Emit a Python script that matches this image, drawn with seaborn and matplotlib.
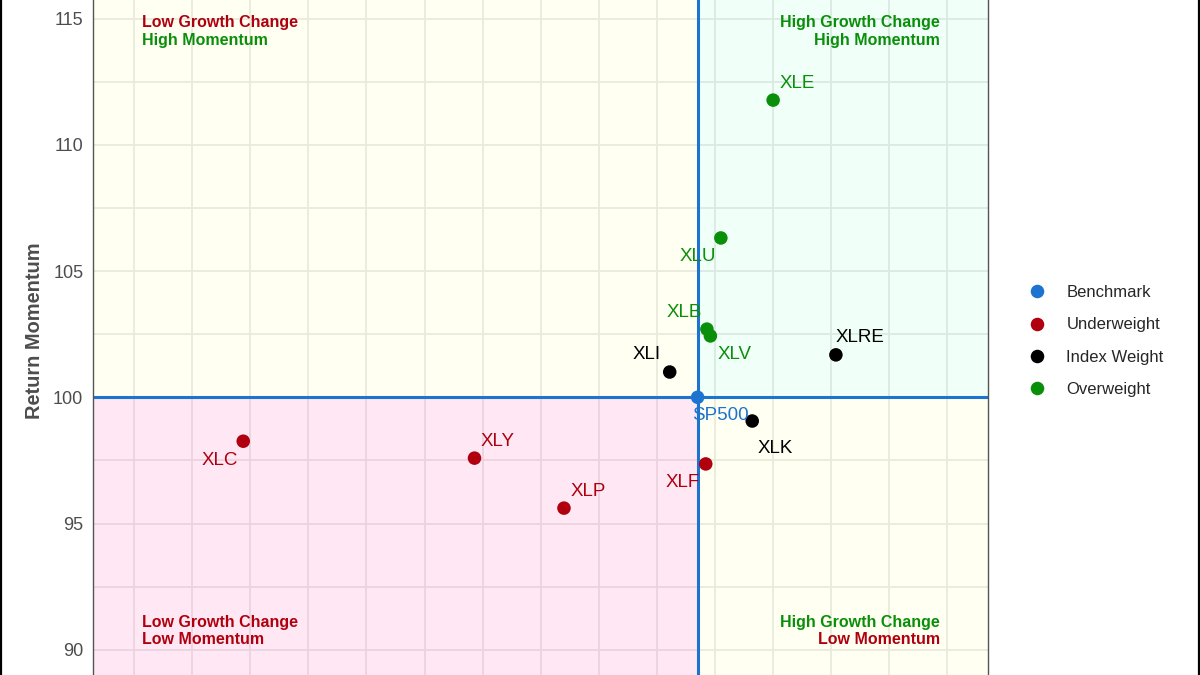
"""Mapa de cuadrantes: momentum de retorno vs cambio de crecimiento (sectores SPDR)."""

import matplotlib

matplotlib.use("Agg")
import matplotlib.pyplot as plt
from matplotlib.lines import Line2D
from matplotlib.ticker import MultipleLocator
import pandas as pd
import seaborn as sns

# --- datos ---
tickers = ["SP500", "XLE", "XLU", "XLB", "XLV", "XLI", "XLRE", "XLK", "XLF", "XLC", "XLY", "XLP"]
growth_change = [100.35, 101.00, 100.55, 100.43, 100.46, 100.11, 101.54, 100.82, 100.42, 96.44, 98.43, 99.20]
return_momentum = [100.00, 111.77, 106.31, 102.70, 102.43, 101.00, 101.68, 99.06, 97.36, 98.26, 97.59, 95.61]
weight = ["Benchmark", "Overweight", "Overweight", "Overweight", "Overweight", "Index Weight",
          "Index Weight", "Index Weight", "Underweight", "Underweight", "Underweight", "Underweight"]

weight_order = ["Benchmark", "Underweight", "Index Weight", "Overweight"]
benchmark_x = 100.35
benchmark_y = 100.0

# colores
BLUE = "#1C74D0"
RED = "#B0000F"
GREEN = "#0A8F0A"
palette = {"Benchmark": BLUE, "Underweight": RED, "Index Weight": "#000000", "Overweight": GREEN}

# desplazamiento de etiquetas (pixeles) al estilo ggrepel
label_nudge = {
    "SP500": (23, -18), "XLE": (24, 17), "XLU": (-23, -19), "XLB": (-23, 17),
    "XLV": (24, -19), "XLI": (-23, 18), "XLRE": (24, 17), "XLK": (23, -27),
    "XLF": (-23, -19), "XLC": (-23, -19), "XLY": (23, 17), "XLP": (24, 17),
}

df = pd.DataFrame({"ticker": tickers, "x": growth_change, "y": return_momentum, "weight": weight})

sns.set_theme(style="white")
plt.rcParams["font.family"] = ["Liberation Sans", "DejaVu Sans"]

fig = plt.figure(figsize=(12, 6.75), dpi=100)
ax = fig.add_axes([93 / 1200, 0, 895 / 1200, 1])

XMIN, XMAX = 95.147, 102.849
YMIN, YMAX = 89.0, 115.735
ax.set_xlim(XMIN, XMAX)
ax.set_ylim(YMIN, YMAX)

# rejilla (debajo de los rellenos semitransparentes)
ax.xaxis.set_major_locator(MultipleLocator(0.5))
ax.yaxis.set_major_locator(MultipleLocator(5))
ax.yaxis.set_minor_locator(MultipleLocator(2.5))
ax.grid(True, which="both", axis="both", color="#E8E8E8", linewidth=1.3, zorder=0)
ax.set_axisbelow(True)

# cuadrantes
ax.fill_between([XMIN, benchmark_x], benchmark_y, YMAX, color="#FFFF00", alpha=0.05, lw=0, zorder=1)
ax.fill_between([benchmark_x, XMAX], benchmark_y, YMAX, color="#00FF7F", alpha=0.06, lw=0, zorder=1)
ax.fill_between([XMIN, benchmark_x], YMIN, benchmark_y, color="#FF1493", alpha=0.10, lw=0, zorder=1)
ax.fill_between([benchmark_x, XMAX], YMIN, benchmark_y, color="#FFFF00", alpha=0.05, lw=0, zorder=1)

ax.axvline(benchmark_x, color=BLUE, linewidth=2.2, zorder=2)
ax.axhline(benchmark_y, color=BLUE, linewidth=2.2, zorder=2)

sns.scatterplot(
    data=df, x="x", y="y", hue="weight", hue_order=weight_order, palette=palette,
    s=95, linewidth=0, ax=ax, zorder=3,
)

for tk, xv, yv, w in zip(tickers, growth_change, return_momentum, weight):
    dx, dy = label_nudge[tk]
    ax.annotate(tk, (xv, yv), xytext=(dx, dy), textcoords="offset pixels",
                ha="center", va="center", fontsize=13.5, color=palette[w], zorder=4)

# textos de los cuadrantes
quad_kw = dict(transform=ax.transAxes, fontsize=11.5, fontweight="bold", va="center")
ax.text(0.0547, 0.9674, "Low Growth Change", color=RED, ha="left", **quad_kw)
ax.text(0.0547, 0.9407, "High Momentum", color=GREEN, ha="left", **quad_kw)
ax.text(0.9464, 0.9674, "High Growth Change", color=GREEN, ha="right", **quad_kw)
ax.text(0.9464, 0.9407, "High Momentum", color=GREEN, ha="right", **quad_kw)
ax.text(0.0547, 0.0785, "Low Growth Change", color=RED, ha="left", **quad_kw)
ax.text(0.0547, 0.0519, "Low Momentum", color=RED, ha="left", **quad_kw)
ax.text(0.9464, 0.0785, "High Growth Change", color=GREEN, ha="right", **quad_kw)
ax.text(0.9464, 0.0519, "Low Momentum", color=RED, ha="right", **quad_kw)

# ejes
ax.set_xlabel("")
ax.set_ylabel("")
ax.set_xticklabels([])
ax.tick_params(axis="y", which="both", length=0, pad=7, labelsize=13, labelcolor="#4D4D4D")
ax.tick_params(axis="x", length=0)
for side in ("top", "bottom"):
    ax.spines[side].set_visible(False)
for side in ("left", "right"):
    ax.spines[side].set_color("#555555")
    ax.spines[side].set_linewidth(1.0)
fig.text(35 / 1200, 1 - 331 / 675, "Return Momentum", rotation=90, ha="center", va="center",
         fontsize=14.4, fontweight="bold", color="#4D4D4D")

# leyenda fuera del panel
handles, labels = ax.get_legend_handles_labels()
ax.get_legend().remove()
fig.legend(handles, labels, loc="center left", bbox_to_anchor=(1029 / 1200, 1 - 341 / 675),
           frameon=False, fontsize=12, handlelength=1.0, handletextpad=1.25,
           labelspacing=1.03, borderpad=0, borderaxespad=0)

# bordes laterales de la imagen
for xf in (0.0008, 0.9992):
    fig.add_artist(Line2D([xf, xf], [0, 1], transform=fig.transFigure, color="black", linewidth=1.6))

fig.savefig("out.png", dpi=100)
